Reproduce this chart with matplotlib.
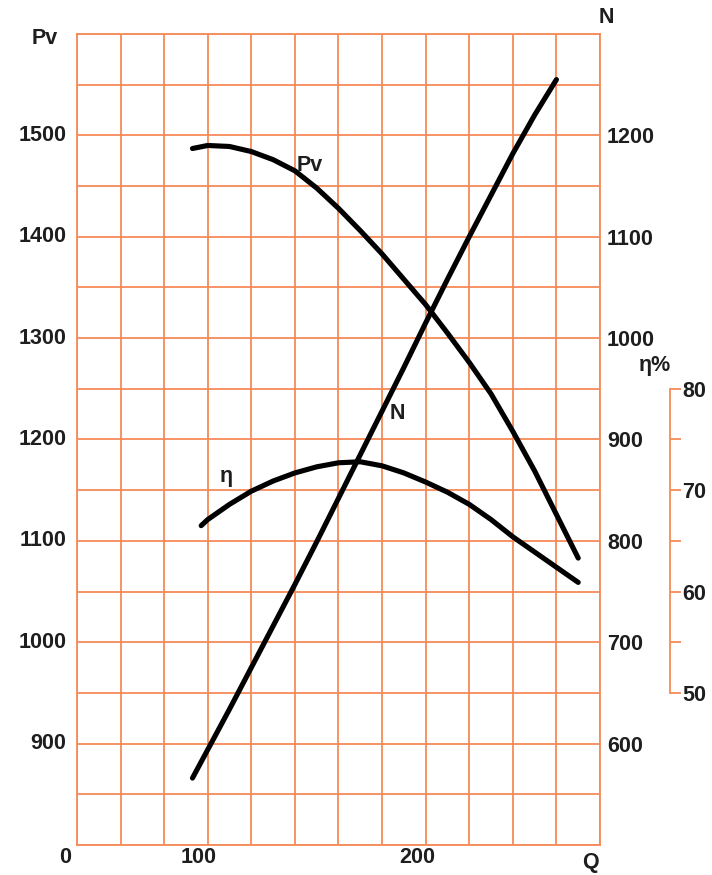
import numpy as np
import matplotlib.pyplot as plt
from matplotlib.ticker import MultipleLocator
import matplotlib.transforms as mtransforms

plt.rcParams['font.family'] = ['Liberation Sans', 'DejaVu Sans']

# fan performance curves: flow Q against pressure Pv, power N and efficiency eta
q_pv = [93, 100, 110, 120, 130, 140, 150, 160, 170, 180,
        190, 200, 210, 220, 230, 240, 250, 260, 270]
pv = [1487, 1490, 1489, 1484, 1476, 1465, 1448, 1428, 1406, 1383,
      1358, 1333, 1305, 1276, 1245, 1208, 1169, 1126, 1083]

q_n = [93, 100, 110, 120, 130, 140, 150, 160, 170, 180,
       190, 200, 210, 220, 230, 240, 250, 260]
n_power = [566, 594, 634, 675, 716, 757, 799, 842, 885, 928,
           971, 1015, 1058, 1100, 1141, 1182, 1220, 1255]

q_eta = [97, 100, 110, 120, 130, 140, 150, 160, 170, 180,
         190, 200, 210, 220, 230, 240, 250, 260, 270]
eta = [66.5, 67.1, 68.6, 69.9, 70.9, 71.7, 72.3, 72.7, 72.8, 72.4,
       71.7, 70.8, 69.8, 68.6, 67.1, 65.4, 63.9, 62.4, 60.9]

pv_ticks = [900, 1000, 1100, 1200, 1300, 1400, 1500]
n_ticks = [600, 700, 800, 900, 1000, 1100, 1200]
eta_ticks = [50, 60, 70, 80]
q_ticks = [100, 200]

grid_col = '#F58A58'
txt_col = '#1e1e1e'
fs = 15.5

fig = plt.figure(figsize=(7.12, 8.75), dpi=100)
ax = fig.add_axes([0.1081, 0.0343, 0.7346, 0.9269])

ax.set_xlim(40, 280)
ax.set_ylim(800, 1600)
ax.xaxis.set_major_locator(MultipleLocator(20))
ax.yaxis.set_major_locator(MultipleLocator(50))
ax.grid(True, color=grid_col, lw=1.3)
for sp in ax.spines.values():
    sp.set_color(grid_col)
    sp.set_linewidth(1.3)
ax.tick_params(length=0)
ax.set_xticklabels([])
ax.set_yticklabels([])

# left Pv labels
for v in pv_ticks:
    ax.text(-0.02, v, str(v), transform=mtransforms.blended_transform_factory(ax.transAxes, ax.transData),
            ha='right', va='center', fontsize=fs, fontweight='bold', color=txt_col)
# bottom Q labels
for v in q_ticks:
    ax.text(v - 4, -0.016, str(v), transform=mtransforms.blended_transform_factory(ax.transData, ax.transAxes),
            ha='center', va='center', fontsize=fs, fontweight='bold', color=txt_col)
ax.text(-0.023, -0.016, '0', transform=ax.transAxes, ha='center', va='center',
        fontsize=fs, fontweight='bold', color=txt_col)
ax.text(0.981, -0.021, 'Q', transform=ax.transAxes, ha='center', va='center',
        fontsize=fs, fontweight='bold', color=txt_col)
ax.text(-0.061, 0.995, 'Pv', transform=ax.transAxes, ha='center', va='center',
        fontsize=fs, fontweight='bold', color=txt_col)

# right N axis
ax2 = ax.twinx()
ax2.set_ylim(500, 1300)
ax2.set_yticks(n_ticks)
ax2.tick_params(axis='y', length=0, pad=5, labelsize=fs, colors=txt_col)
for lab in ax2.get_yticklabels():
    lab.set_fontweight('bold')
for sp in ax2.spines.values():
    sp.set_visible(False)
ax.text(1.012, 1.02, 'N', transform=ax.transAxes, ha='center', va='center',
        fontsize=fs, fontweight='bold', color=txt_col)

# separate efficiency scale
ax3 = ax.twinx()
ax3.set_ylim(35, 115)
for name in ['top', 'bottom', 'left']:
    ax3.spines[name].set_visible(False)
ax3.spines['right'].set_position(('axes', 1.1338))
ax3.spines['right'].set_bounds(50, 80)
ax3.spines['right'].set_color(grid_col)
ax3.spines['right'].set_linewidth(1.3)
ax3.set_yticks(eta_ticks)
ax3.set_yticks([55, 65, 75], minor=True)
ax3.tick_params(axis='y', which='both', direction='out', length=8, width=1.3,
                color=grid_col, pad=1, labelsize=fs, labelcolor=txt_col)
for lab in ax3.get_yticklabels():
    lab.set_fontweight('bold')
ax3.text(1.105, 82.3, 'η%', transform=mtransforms.blended_transform_factory(ax3.transAxes, ax3.transData),
         ha='center', va='center', fontsize=fs, fontweight='bold', color=txt_col)

# curves
line_kw = dict(color='black', lw=3.7, solid_capstyle='round', solid_joinstyle='round')
ax.plot(q_pv, pv, **line_kw)
ax2.plot(q_n, n_power, **line_kw)
ax3.plot(q_eta, eta, **line_kw)

ax.text(147, 1470, 'Pv', ha='center', va='center', fontsize=fs, fontweight='bold', color=txt_col)
ax2.text(187, 926, 'N', ha='center', va='center', fontsize=fs, fontweight='bold', color=txt_col)
ax3.text(108.5, 71.3, 'η', ha='center', va='center', fontsize=fs, fontweight='bold', color=txt_col)

fig.savefig('out.png', dpi=100)
